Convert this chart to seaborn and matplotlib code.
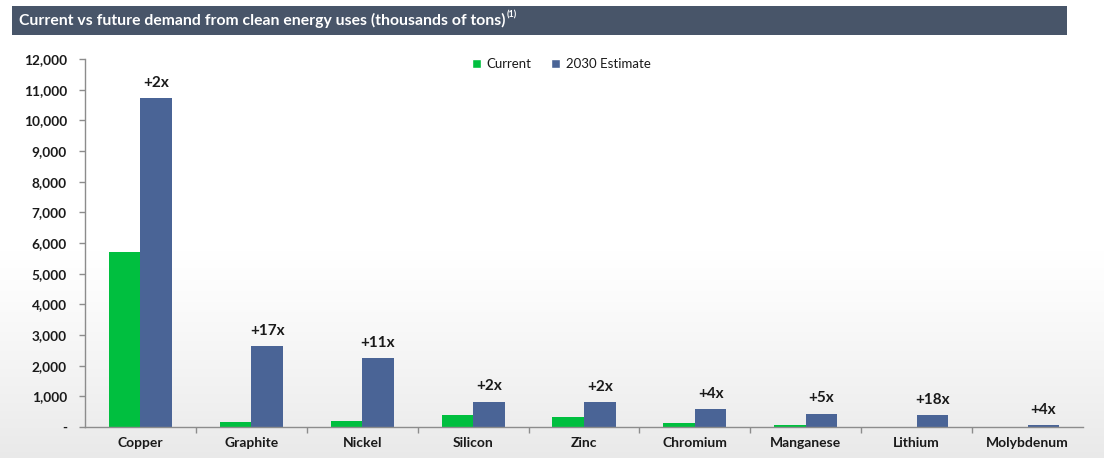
import numpy as np
import pandas as pd
import matplotlib
matplotlib.use("Agg")
import matplotlib.pyplot as plt
from matplotlib.patches import Rectangle, Patch
from matplotlib.ticker import FixedLocator, FuncFormatter
import seaborn as sns

minerals = ["Copper", "Graphite", "Nickel", "Silicon", "Zinc",
            "Chromium", "Manganese", "Lithium", "Molybdenum"]
current = [5720, 160, 200, 390, 330, 130, 80, 10, 10]
estimate_2030 = [10720, 2640, 2240, 830, 820, 590, 430, 390, 65]
multipliers = ["+2x", "+17x", "+11x", "+2x", "+2x", "+4x", "+5x", "+18x", "+4x"]
series_names = ["Current", "2030 Estimate"]
y_ticks = list(range(0, 12001, 1000))
title = "Current vs future demand from clean energy uses (thousands of tons)"
footnote_mark = "(1)"

GREEN = "#00bf3f"
BLUE = "#4a6496"
BAR_BG = "#485569"
TEXT = "#1a1a1a"

df = pd.DataFrame({
    "mineral": minerals * 2,
    "value": current + estimate_2030,
    "series": [series_names[0]] * len(minerals) + [series_names[1]] * len(minerals),
})

sns.set_theme(style="white")
plt.rcParams["font.family"] = ["Lato", "DejaVu Sans"]

fig = plt.figure(figsize=(11.04, 4.58), dpi=100)

# subtle background gradient (white at top, light grey at bottom)
bg = fig.add_axes([0, 0, 1, 1], zorder=-10)
grad = np.linspace(0, 1, 256)
g = np.clip((0.45 - grad) / 0.45, 0, 1) ** 1.2
shade = 1.0 - 0.085 * g
img = np.repeat(shade[:, None, None], 2, axis=1).repeat(3, axis=2)
bg.imshow(img, aspect="auto", extent=[0, 1, 0, 1], origin="lower")
bg.axis("off")

# title bar
fig.patches.append(Rectangle((12 / 1104, 1 - 35 / 458), (1067 - 12) / 1104, 29 / 458,
                             transform=fig.transFigure, facecolor=BAR_BG,
                             edgecolor="none", zorder=1))
ttl = fig.text(19 / 1104, 1 - 20.5 / 458, title, color="white",
               fontsize=11.3, fontweight="bold", va="center", ha="left", zorder=2)
fig.canvas.draw()
tb = ttl.get_window_extent(fig.canvas.get_renderer())
fig.text((tb.x1 + 1.5) / 1104, 1 - 15 / 458, footnote_mark, color="white",
         fontsize=6.5, fontweight="bold", va="center", ha="left", zorder=2)

ax = fig.add_axes([85 / 1104, 1 - 427 / 458, (1083 - 85) / 1104, (427 - 59) / 458])
ax.patch.set_alpha(0)

sns.barplot(data=df, x="mineral", y="value", hue="series", order=minerals,
            hue_order=series_names, palette=[GREEN, BLUE], saturation=1,
            width=0.57, ax=ax, legend=False, edgecolor="none", linewidth=0)

ax.set_xlim(-0.5, len(minerals) - 0.5)
ax.set_ylim(0, 12000)
ax.set_xlabel("")
ax.set_ylabel("")

# annotations above 2030 bars
bar_w = 0.57 / 2
for i, (v, m) in enumerate(zip(estimate_2030, multipliers)):
    ax.annotate(m, xy=(i + bar_w / 2, v), xytext=(0, 6), textcoords="offset points",
                ha="center", va="bottom", fontsize=11, fontweight="bold", color=TEXT)

# axes styling
for s in ["top", "right"]:
    ax.spines[s].set_visible(False)
ax.spines["left"].set_color("#8c8c8c")
ax.spines["bottom"].set_color("#8c8c8c")
ax.spines["left"].set_linewidth(1.0)
ax.spines["bottom"].set_linewidth(1.0)

ax.yaxis.set_major_locator(FixedLocator(y_ticks))
ax.yaxis.set_major_formatter(FuncFormatter(lambda v, p: "-" if v == 0 else f"{int(v):,}"))
ax.tick_params(axis="y", which="major", left=True, length=4, width=1, color="#8c8c8c",
               labelsize=9.8, labelcolor=TEXT, pad=9)
for lab in ax.get_yticklabels():
    lab.set_fontweight("bold")

ax.set_xticks(range(len(minerals)))
ax.set_xticklabels(minerals)
ax.set_xticks(np.arange(0.5, len(minerals) - 0.5, 1), minor=True)
ax.tick_params(axis="x", which="major", bottom=False, length=0, labelsize=10,
               labelcolor=TEXT, pad=7)
ax.tick_params(axis="x", which="minor", bottom=True, length=4, width=1, color="#8c8c8c")
for lab in ax.get_xticklabels():
    lab.set_fontweight("bold")

handles = [Patch(facecolor=GREEN, label=series_names[0]),
           Patch(facecolor=BLUE, label=series_names[1])]
leg = ax.legend(handles=handles, loc="upper center", bbox_to_anchor=(0.477, 1.035),
                ncol=2, frameon=False, fontsize=9.5, handlelength=0.7, handleheight=0.7,
                handletextpad=0.4, columnspacing=1.5)
for t in leg.get_texts():
    t.set_color(TEXT)

fig.savefig("out.png", dpi=100)
